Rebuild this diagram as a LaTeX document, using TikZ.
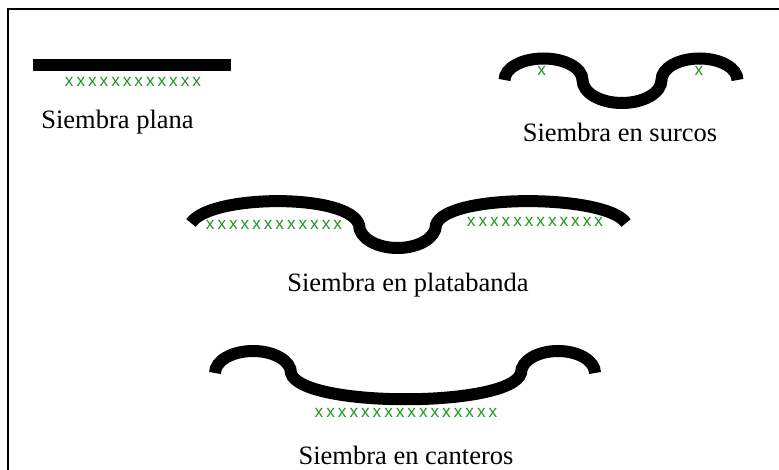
\documentclass[tikz,border=0pt]{standalone}
\usepackage{fontspec}
\setmainfont{Liberation Serif}
\newfontfamily\seedfont[LetterSpace=17]{Liberation Sans}
\definecolor{seedgreen}{RGB}{34,150,34}
\tikzset{
  soil/.style={line width=12pt},
  seeds/.style={inner sep=0pt, text=seedgreen, font=\seedfont\fontsize{17.3}{18}\selectfont},
  captext/.style={inner sep=0pt, anchor=base, font=\fontsize{26.5}{30}\selectfont},
}
\begin{document}
\begin{tikzpicture}[x=1pt, y=-1pt]
\useasboundingbox (0,0) rectangle (779,470);
\draw [line width=1.5pt] (779,9) -- (8,9) -- (8,470);

\path (33,65) coordinate (plana);
\draw [soil] (plana) -- ++(198,0);
\node [seeds] (plana-seeds) at (133,82) {xxxxxxxxxxxx};
\node [captext] (plana-text) at (117.5,129) {Siembra plana};

%%%%%%%%%%%%%%%%%%%%%%%%%%%%%%%%%%%%%%%%

\path (504.5,80) coordinate (surcos);
\draw [soil] (surcos)
  arc [start angle=180, end angle=0, x radius=39pt, y radius=21.5pt]
  arc [start angle=180, end angle=360, x radius=39.5pt, y radius=23pt]
  arc [start angle=180, end angle=0, x radius=38pt, y radius=21.5pt];
\node [seeds] (surcos-seeds-l) at (541.7,70.7) {x};
\node [seeds] (surcos-seeds-r) at (699,70.7) {x};
\node [captext] (surcos-text) at (620,141.5) {Siembra en surcos};

%%%%%%%%%%%%%%%%%%%%%%%%%%%%%%%%%%%%%%%%

\path (191,223) coordinate (plata);
\draw [soil] (plata)
  .. controls (210,194) and (350,193) .. (359,225)
  arc [start angle=180, end angle=360, x radius=38.5pt, y radius=23pt]
  .. controls (445,193) and (607,194) .. (626,223);
\node [seeds] (plata-seeds-l) at (274,225) {xxxxxxxxxxxx};
\node [seeds] (plata-seeds-r) at (535,222.3) {xxxxxxxxxxxx};
\node [captext] (plata-text) at (408,292) {Siembra en platabanda};

%%%%%%%%%%%%%%%%%%%%%%%%%%%%%%%%%%%%%%%%

\path (215,373) coordinate (cantero);
\draw [soil] (cantero)
  arc [start angle=180, end angle=0, x radius=38pt, y radius=22pt]
  .. controls (300,408) and (511,408) .. (521,373)
  arc [start angle=180, end angle=0, x radius=37pt, y radius=22pt];
\node [seeds] (cantero-seeds) at (406,413) {xxxxxxxxxxxxxxxx};
\node [captext] (cantero-text) at (406,464.5) {Siembra en canteros};
\end{tikzpicture}
\end{document}
